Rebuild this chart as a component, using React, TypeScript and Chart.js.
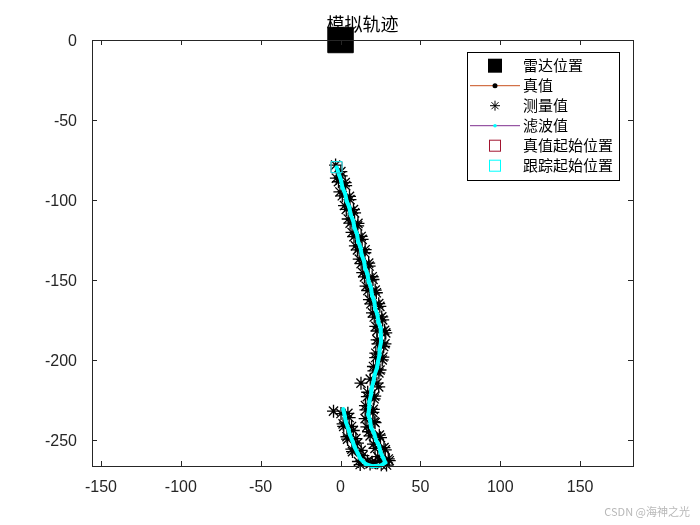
import React, { useEffect, useRef } from 'react';
import { Chart, registerables } from 'chart.js';
Chart.register(...registerables);

const TITLE = '模拟轨迹';
const LEGEND_LABELS = ['雷达位置', '真值', '测量值', '滤波值', '真值起始位置', '跟踪起始位置'];
const WATERMARK = 'CSDN @海神之光';
const X_TICKS = [-150, -100, -50, 0, 50, 100, 150];
const Y_TICKS = [-250, -200, -150, -100, -50, 0];
const X_MIN = -155.6;
const X_MAX = 183.1;
const Y_MIN = -266.3;
const Y_MAX = 0;

const RADAR_X = [0];
const RADAR_Y = [0];

const TRUE_X = [-2.5, -1.2, 0.1, 1.4, 2.7, 4.0, 5.3, 6.5, 7.7, 8.9, 10.1, 11.2, 12.3, 13.4, 14.5, 15.6, 16.7, 17.8, 18.9, 19.9, 20.9, 21.9, 22.9, 23.9, 24.9, 25.4, 25.2, 24.7, 24.2, 23.6, 22.6, 21.5, 20.5, 19.7, 19.0, 18.3, 17.8, 17.6, 18.3, 19.3, 20.8, 22.4, 23.9, 25.3, 26.6, 28.3, 25.0, 20.0, 15.5, 12.8, 10.7, 9.0, 7.4, 6.0, 4.7, 3.5, 2.4, 1.8];
const TRUE_Y = [-79.5, -83.7, -87.9, -92.1, -96.3, -100.5, -104.7, -108.9, -113.1, -117.3, -121.5, -125.7, -129.9, -134.1, -138.3, -142.5, -146.7, -150.9, -155.1, -159.3, -163.5, -167.7, -171.9, -176.1, -180.3, -184.5, -188.7, -192.9, -197.1, -201.2, -205.2, -209.2, -213.3, -217.4, -221.5, -225.6, -229.7, -233.9, -238.0, -242.1, -246.0, -249.9, -253.8, -257.7, -261.5, -264.3, -266.2, -266.6, -265.3, -262.0, -258.4, -254.6, -250.8, -246.8, -242.8, -238.8, -234.8, -230.8];

const MEAS_X = [
  -3.1, 0.2, 0.4, -2.6, -1.3, 2.9, 3.2, -0.4, 1.1, 5.6, 5.9, 2.5, 3.6, 8.1, 8.8, 4.8, 6.0, 10.9, 10.7, 7.2,
  8.4, 12.9, 13.5, 9.3, 10.6, 15.4, 15.2, 11.7, 12.9, 17.6, 17.9, 13.9, 15.0, 19.8, 20.3, 16.0, 17.1, 21.7, 22.4, 18.1,
  19.0, 23.9, 24.6, 20.0, 21.1, 25.8, 26.4, 22.1, 22.8, 27.6, 28.3, 22.9, 23.4, 27.8, 27.0, 22.1, 22.0, 26.5, 26.1, 20.6,
  20.9, 24.7, 24.0, 18.6, 12.8, 22.8, 23.9, 17.0, 16.8, 21.4, 21.0, 15.6, 15.9, 20.5, 20.2, 15.4, 21.0, 21.6, 16.5, 17.5,
  18.5, 24.3, 25.0, 20.6, 21.6, 27.2, 28.0, 23.3, 24.5, 29.9, 30.5, 28.8, 25.5, 22.0, 18.5, 19.8, 16.8, 12.3, 11.2, 14.0,
  12.9, 7.5, 7.1, 10.6, 9.6, 4.4, 4.0, 8.0, 6.9, 2.0, 1.6, 5.4, 4.6, 0.3, -4.4,
];
const MEAS_Y = [
  -78.2, -82.3, -84.9, -86.4, -88.6, -89.1, -91.0, -95.0, -97.4, -97.7, -99.8, -103.5, -105.9, -106.0, -108.1, -111.9, -114.5, -114.6, -116.2, -120.3,
  -122.9, -122.8, -124.6, -128.7, -131.2, -131.1, -133.0, -137.0, -139.8, -139.5, -141.3, -145.4, -148.1, -148.0, -149.7, -153.9, -156.6, -156.3, -158.0, -162.3,
  -164.9, -164.8, -166.5, -170.6, -173.2, -173.1, -175.0, -179.0, -181.9, -181.5, -183.1, -187.4, -190.0, -189.9, -191.6, -195.8, -198.5, -198.2, -200.0, -204.1,
  -206.8, -206.3, -208.1, -212.0, -214.5, -214.5, -216.9, -220.2, -222.9, -222.6, -224.3, -228.5, -231.2, -230.9, -232.8, -236.7, -238.6, -239.2, -241.8, -244.9,
  -247.5, -247.0, -248.6, -252.6, -255.3, -254.8, -256.2, -260.4, -262.6, -261.9, -263.0, -265.7, -265.5, -264.2, -265.0, -263.9, -263.2, -265.4, -263.5, -259.8,
  -256.5, -257.3, -255.8, -252.0, -249.2, -249.5, -248.0, -244.1, -241.6, -241.5, -240.0, -236.0, -233.4, -233.5, -232.0,
];

const FILT_X = [-2.5, -1.0, 0.3, 1.2, 2.9, 3.8, 5.5, 6.3, 7.9, 8.7, 10.3, 11.0, 12.5, 13.2, 14.7, 15.4, 16.9, 17.6, 19.1, 19.7, 21.1, 21.7, 23.1, 23.7, 25.1, 25.2, 25.4, 24.5, 24.4, 23.4, 22.8, 21.3, 20.7, 19.5, 19.2, 18.1, 18.0, 17.4, 18.5, 19.1, 21.0, 22.2, 24.1, 25.1, 26.8, 28.0, 25.3, 19.7, 15.8, 12.5, 10.9, 8.8, 7.6, 5.8, 4.9, 3.3, 2.6, 1.7];
const FILT_Y = [-79.5, -83.9, -87.7, -92.3, -96.1, -100.7, -104.5, -109.1, -112.9, -117.5, -121.3, -125.9, -129.7, -134.3, -138.1, -142.7, -146.5, -151.1, -154.9, -159.5, -163.3, -167.9, -171.7, -176.3, -180.1, -184.7, -188.5, -193.1, -196.9, -201.4, -205.0, -209.4, -213.1, -217.6, -221.3, -225.8, -229.5, -234.1, -237.8, -242.3, -245.8, -250.1, -253.6, -257.9, -261.3, -264.1, -266.0, -266.4, -265.1, -261.8, -258.6, -254.4, -251.0, -246.6, -243.0, -238.6, -235.0, -230.6];

const TRUE_START_X = [-2.5];
const TRUE_START_Y = [-79.5];
const TRACK_START_X = [-2.5];
const TRACK_START_Y = [-79.5];

const AXIS_COLOR = '#262626';
const TRUE_LINE = '#C8501E';
const FILT_LINE = '#7E2F8E';
const CYAN = '#00FFFF';
const RED_SQ = '#A2142F';
const CJK_FONT = '"Noto Sans CJK SC", sans-serif';

const pts = (xs: number[], ys: number[]) => xs.map((x, i) => ({ x, y: ys[i] }));

function drawStar(ctx: CanvasRenderingContext2D, x: number, y: number, r: number) {
  ctx.beginPath();
  ctx.moveTo(x - r, y); ctx.lineTo(x + r, y);
  ctx.moveTo(x, y - r); ctx.lineTo(x, y + r);
  const d = r * Math.SQRT1_2;
  ctx.moveTo(x - d, y - d); ctx.lineTo(x + d, y + d);
  ctx.moveTo(x - d, y + d); ctx.lineTo(x + d, y - d);
  ctx.stroke();
}

const decorPlugin = {
  id: 'decor',
  beforeDatasetsDraw(chart: any) {
    const ctx = chart.ctx;
    const ca = chart.chartArea;
    ctx.save();
    ctx.fillStyle = '#000';
    ctx.font = '18px ' + CJK_FONT;
    ctx.textAlign = 'center';
    ctx.textBaseline = 'middle';
    ctx.fillText(TITLE, (ca.left + ca.right) / 2, 24);
    ctx.restore();
  },
  afterDraw(chart: any) {
    const ctx = chart.ctx;
    const ca = chart.chartArea;
    const xs = chart.scales.x;
    const ys = chart.scales.y;
    ctx.save();
    ctx.strokeStyle = AXIS_COLOR;
    ctx.lineWidth = 1;
    ctx.strokeRect(Math.round(ca.left) + 0.5, Math.round(ca.top) + 0.5, Math.round(ca.right - ca.left), Math.round(ca.bottom - ca.top));
    const tl = 5;
    ctx.beginPath();
    X_TICKS.forEach((v) => {
      const px = Math.round(xs.getPixelForValue(v)) + 0.5;
      ctx.moveTo(px, ca.bottom); ctx.lineTo(px, ca.bottom - tl);
      ctx.moveTo(px, ca.top); ctx.lineTo(px, ca.top + tl);
    });
    Y_TICKS.forEach((v) => {
      const py = Math.round(ys.getPixelForValue(v)) + 0.5;
      ctx.moveTo(ca.left, py); ctx.lineTo(ca.left + tl, py);
      ctx.moveTo(ca.right, py); ctx.lineTo(ca.right - tl, py);
    });
    ctx.stroke();

    const lx = 467.5, ly = 52.5, lw = 152, lh = 128;
    ctx.fillStyle = '#fff';
    ctx.fillRect(lx, ly, lw, lh);
    ctx.strokeStyle = '#000';
    ctx.strokeRect(lx, ly, lw, lh);
    const mx = 495;
    ctx.font = '15px ' + CJK_FONT;
    ctx.textAlign = 'left';
    ctx.textBaseline = 'middle';
    LEGEND_LABELS.forEach((label, i) => {
      const y = 65.7 + i * 20;
      ctx.fillStyle = '#000';
      ctx.fillText(label, 523, y);
      if (i === 0) {
        ctx.fillStyle = '#000';
        ctx.fillRect(mx - 7, y - 7, 14, 14);
      } else if (i === 1) {
        ctx.strokeStyle = TRUE_LINE;
        ctx.lineWidth = 1;
        ctx.beginPath(); ctx.moveTo(470, y); ctx.lineTo(520, y); ctx.stroke();
        ctx.fillStyle = '#000';
        ctx.beginPath(); ctx.arc(mx, y, 2.5, 0, Math.PI * 2); ctx.fill();
      } else if (i === 2) {
        ctx.strokeStyle = '#000';
        ctx.lineWidth = 1;
        drawStar(ctx, mx, y, 5);
      } else if (i === 3) {
        ctx.strokeStyle = FILT_LINE;
        ctx.lineWidth = 1;
        ctx.beginPath(); ctx.moveTo(470, y); ctx.lineTo(520, y); ctx.stroke();
        ctx.fillStyle = CYAN;
        ctx.beginPath(); ctx.arc(mx, y, 1.8, 0, Math.PI * 2); ctx.fill();
      } else {
        ctx.strokeStyle = i === 4 ? RED_SQ : CYAN;
        ctx.lineWidth = 1;
        ctx.strokeRect(mx - 5.5, y - 5.5, 11, 11);
      }
    });

    ctx.fillStyle = '#b8b8b8';
    ctx.font = '11px ' + CJK_FONT;
    ctx.textAlign = 'right';
    ctx.textBaseline = 'alphabetic';
    ctx.fillText(WATERMARK, 690, 516);
    ctx.restore();
  },
};

export default function App() {
  const ref = useRef<HTMLCanvasElement | null>(null);
  useEffect(() => {
    if (!ref.current) return;
    const chart = new Chart(ref.current, {
      type: 'scatter',
      data: {
        datasets: [
          {
            label: LEGEND_LABELS[5],
            data: pts(TRACK_START_X, TRACK_START_Y),
            pointStyle: 'rect',
            pointRadius: 7.8,
            backgroundColor: 'rgba(0,0,0,0)',
            borderColor: CYAN,
            borderWidth: 1,
            order: 0,
            clip: false,
          } as any,
          {
            label: LEGEND_LABELS[4],
            data: pts(TRUE_START_X, TRUE_START_Y),
            pointStyle: 'rect',
            pointRadius: 7.8,
            backgroundColor: 'rgba(0,0,0,0)',
            borderColor: RED_SQ,
            borderWidth: 1,
            order: 1,
            clip: false,
          },
          {
            label: LEGEND_LABELS[3],
            data: pts(FILT_X, FILT_Y),
            showLine: true,
            borderColor: CYAN,
            borderWidth: 4,
            pointRadius: 2,
            pointBackgroundColor: CYAN,
            pointBorderWidth: 0,
            tension: 0,
            order: 2,
            clip: false,
          },
          {
            label: LEGEND_LABELS[2],
            data: pts(MEAS_X, MEAS_Y),
            pointStyle: 'star',
            pointRadius: 6.5,
            borderColor: '#000',
            backgroundColor: '#000',
            borderWidth: 1.3,
            order: 3,
            clip: false,
          },
          {
            label: LEGEND_LABELS[1],
            data: pts(TRUE_X, TRUE_Y),
            showLine: true,
            borderColor: TRUE_LINE,
            borderWidth: 1,
            pointRadius: 1.5,
            pointBackgroundColor: '#000',
            pointBorderWidth: 0,
            order: 4,
            clip: false,
          },
          {
            label: LEGEND_LABELS[0],
            data: pts(RADAR_X, RADAR_Y),
            pointStyle: 'rect',
            pointRadius: 18,
            backgroundColor: '#000',
            borderColor: '#000',
            borderWidth: 1,
            order: 5,
            clip: false,
          },
        ],
      },
      options: {
        responsive: false,
        animation: false,
        events: [],
        layout: { padding: { top: 40, right: 67, left: 0, bottom: 0 } },
        plugins: { legend: { display: false }, tooltip: { enabled: false }, title: { display: false } },
        scales: {
          x: {
            type: 'linear',
            min: X_MIN,
            max: X_MAX,
            grid: { display: false },
            border: { display: false },
            ticks: {
              color: AXIS_COLOR,
              font: { family: '"Liberation Sans", Arial, sans-serif', size: 16 },
              padding: 4,
              maxRotation: 0,
              autoSkip: false,
            },
            afterBuildTicks: (s: any) => { s.ticks = X_TICKS.map((v) => ({ value: v })); },
            afterFit: (s: any) => { s.height = 59; },
          },
          y: {
            type: 'linear',
            min: Y_MIN,
            max: Y_MAX,
            grid: { display: false },
            border: { display: false },
            ticks: {
              color: AXIS_COLOR,
              font: { family: '"Liberation Sans", Arial, sans-serif', size: 16 },
              padding: 7,
              labelOffset: 2,
              autoSkip: false,
            },
            afterBuildTicks: (s: any) => { s.ticks = Y_TICKS.map((v) => ({ value: v })); },
            afterFit: (s: any) => { s.width = 92; },
          },
        },
      },
      plugins: [decorPlugin],
    });
    return () => chart.destroy();
  }, []);
  return (
    <div style={{ position: 'fixed', left: 0, top: 0, width: 700, height: 525, background: '#fff' }}>
      <canvas ref={ref} width={700} height={525} style={{ width: 700, height: 525, display: 'block' }} />
    </div>
  );
}
